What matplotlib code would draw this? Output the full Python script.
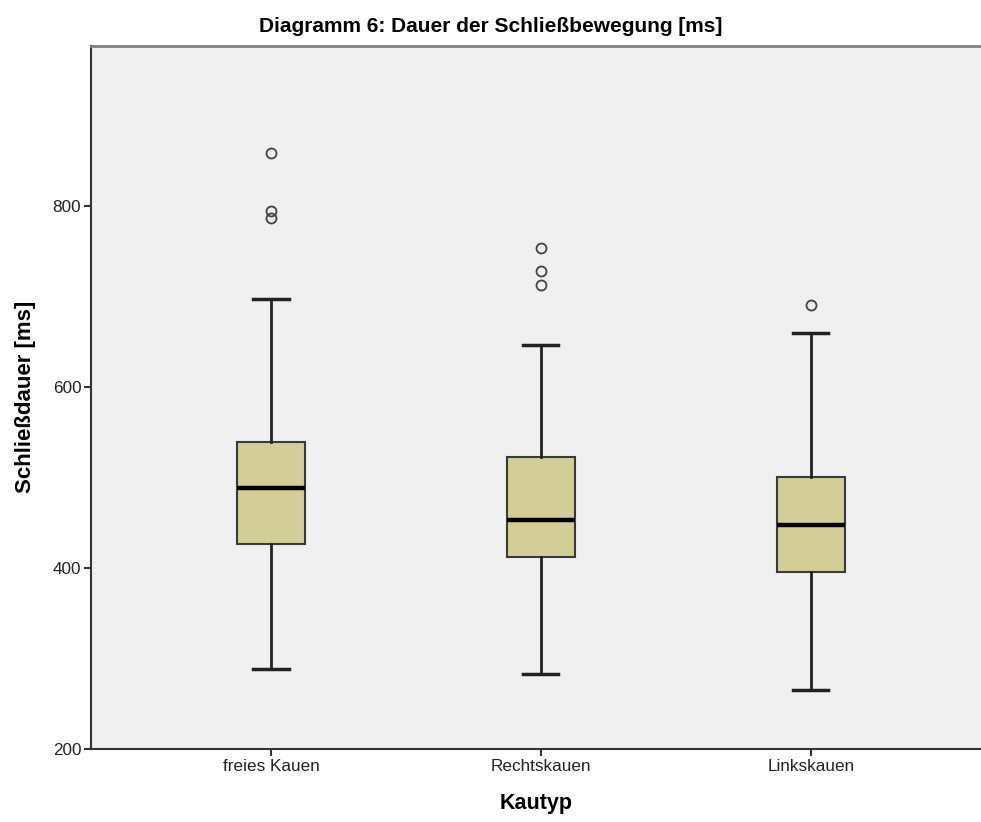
import matplotlib
matplotlib.use("Agg")
import matplotlib.pyplot as plt

# box statistics (ms)
categories = ["freies Kauen", "Rechtskauen", "Linkskauen"]
q1 = [426, 412, 395]
median = [488, 453, 448]
q3 = [539, 523, 501]
whisker_lo = [288, 283, 265]
whisker_hi = [697, 646, 660]
outliers = [[858, 794, 787], [754, 728, 713], [690]]

font = "Liberation Sans"

stats = []
for i, name in enumerate(categories):
    stats.append({
        "label": name,
        "q1": q1[i], "med": median[i], "q3": q3[i],
        "whislo": whisker_lo[i], "whishi": whisker_hi[i],
        "fliers": outliers[i],
    })

fig = plt.figure(figsize=(9.81, 8.22), dpi=100)
ax = fig.add_axes([91 / 981, 1 - 749 / 822, 1 - 91 / 981, (749 - 45.7) / 822])
ax.set_facecolor("#f0f0f0")

ax.bxp(stats, positions=[1, 2, 3], widths=0.25, capwidths=0.13, patch_artist=True,
       boxprops=dict(facecolor="#d3ce98", edgecolor="#3a3a3a", linewidth=1.5),
       medianprops=dict(color="black", linewidth=3.2),
       whiskerprops=dict(color="#222222", linewidth=2),
       capprops=dict(color="#222222", linewidth=2.5),
       flierprops=dict(marker="o", markersize=7.2, markerfacecolor="none",
                       markeredgecolor="#444444", markeredgewidth=1.3))

ax.set_xlim(1 / 3, 3.63)
ax.set_ylim(200, 977)
ax.set_yticks([200, 400, 600, 800])
ax.set_xticks([1, 2, 3])
ax.set_xticklabels(categories)

for lab in ax.get_xticklabels() + ax.get_yticklabels():
    lab.set_fontfamily(font)
    lab.set_fontsize(12.3)
    lab.set_color("#222222")
ax.tick_params(axis="both", length=5, width=1.5, color="#333333", pad=2)

ax.spines["right"].set_visible(False)
ax.spines["top"].set_color("#808080")
ax.spines["top"].set_linewidth(2)
for s in ("left", "bottom"):
    ax.spines[s].set_color("#333333")
    ax.spines[s].set_linewidth(1.5)

ax.set_xlabel("Kautyp", fontfamily=font, fontweight="bold", fontsize=15.5, labelpad=14)
ax.set_ylabel("Schließdauer [ms]", fontfamily=font, fontweight="bold", fontsize=16, labelpad=12)

fig.text(0.5, 1 - 27 / 822, "Diagramm 6: Dauer der Schließbewegung [ms]",
         ha="center", va="center", fontfamily=font, fontweight="bold", fontsize=15)

fig.savefig("out.png", dpi=100)
